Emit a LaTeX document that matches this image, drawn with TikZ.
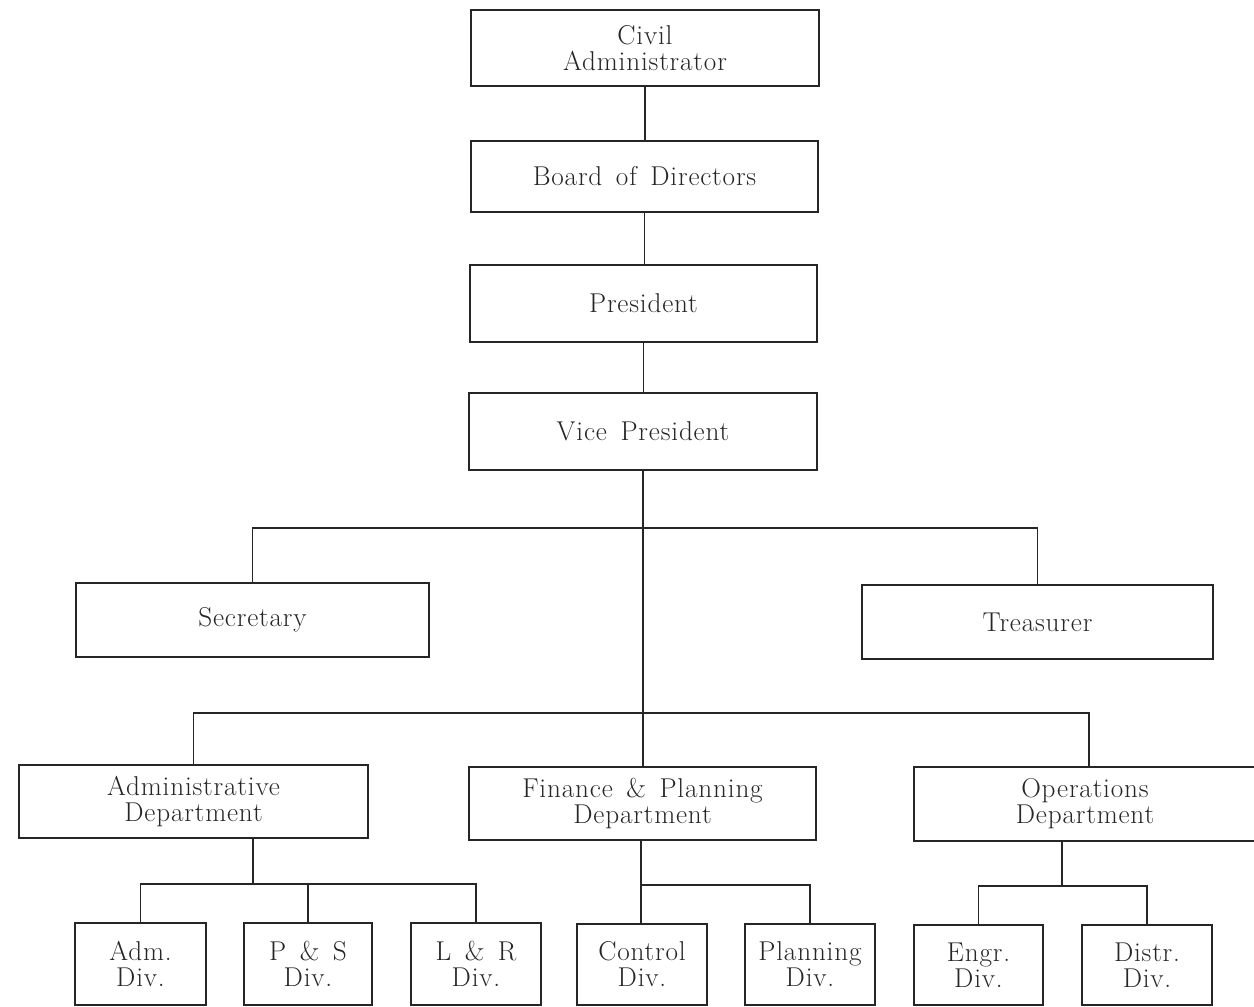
\documentclass[tikz,border=0pt]{standalone}
\usepackage{fontspec}
\setmainfont{Latin Modern Roman}
\newfontfamily\lblfont[LetterSpace=3,WordSpace=1.5]{Latin Modern Roman}
\begin{document}
\begin{tikzpicture}[x=0.02cm,y=-0.02cm,
  line width=0.65pt, draw=black!85,
  box/.style={draw, align=center, inner sep=0pt, font=\lblfont\fontsize{15.5}{14.8}\selectfont, text=black!85},
  wh/.style 2 args={minimum width=#1*0.02cm, minimum height=#2*0.02cm}]
\useasboundingbox (0,0) rectangle (1254,1007);
% top chain
\node[box, wh={348}{76}] (civ) at (645,48) {Civil\\Administrator};
\node[box, wh={347}{71}] (bod) at (644.5,176.5) {Board of Directors};
\node[box, wh={347}{77}] (pres) at (643.5,303.5) {President};
\node[box, wh={348}{77}] (vp) at (643,431.5) {Vice President};
% staff
\node[box, wh={353}{74}] (sec) at (252.5,620) {Secretary};
\node[box, wh={351}{74}] (tre) at (1037.5,622) {Treasurer};
% departments
\node[box, wh={349}{73}] (adm) at (193.5,801.5) {Administrative\\Department};
\node[box, wh={347}{73}] (fin) at (642.5,803.5) {Finance \& Planning\\Department};
\node[box, wh={342}{74}] (ops) at (1085,804) {Operations\\Department};
% divisions
\node[box, wh={131}{82}] (d1) at (140.5,964) {Adm.\\Div.};
\node[box, wh={128}{82}] (d2) at (308,964) {P \& S\\Div.};
\node[box, wh={130}{82}] (d3) at (476,964) {L \& R\\Div.};
\node[box, wh={130}{81}] (d4) at (642,964.5) {Control\\Div.};
\node[box, wh={130}{81}] (d5) at (810,964.5) {Planning\\Div.};
\node[box, wh={129}{80}] (d6) at (978.5,965) {Engr.\\Div.};
\node[box, wh={130}{80}] (d7) at (1147,965) {Distr.\\Div.};
% bus coordinates
\coordinate (bs) at (642,528);
\coordinate (bd) at (642,713);
\coordinate (bo1) at (1089,713);
\coordinate (ba) at (253,884);
\coordinate (bf) at (641,885);
\coordinate (bo) at (1062,886);
% chain
\draw (civ.south) -- (civ.south |- bod.north);
\draw (bod.south) -- (bod.south |- pres.north);
\draw (pres.south) -- (pres.south |- vp.north);
\draw (vp.south) -- (vp.south |- fin.north);
% staff bus
\draw (sec.north) -- (sec.north |- bs) -- (tre.north |- bs) -- (tre.north);
% department bus
\draw (adm.north) -- (adm.north |- bd) -- (bo1) -- (ops.north -| bo1);
% admin divisions
\draw (adm.south -| ba) -- (ba);
\draw (d1.north) -- (d1.north |- ba) -- (d3.north |- ba) -- (d3.north);
\draw (d2.north) -- (d2.north |- ba);
% finance divisions
\draw (fin.south -| bf) -- (bf) -- (d5.north |- bf) -- (d5.north);
\draw (bf) -- (d4.north -| bf);
% operations divisions
\draw (ops.south -| bo) -- (bo);
\draw (d6.north) -- (d6.north |- bo) -- (d7.north |- bo) -- (d7.north);
\end{tikzpicture}
\end{document}
